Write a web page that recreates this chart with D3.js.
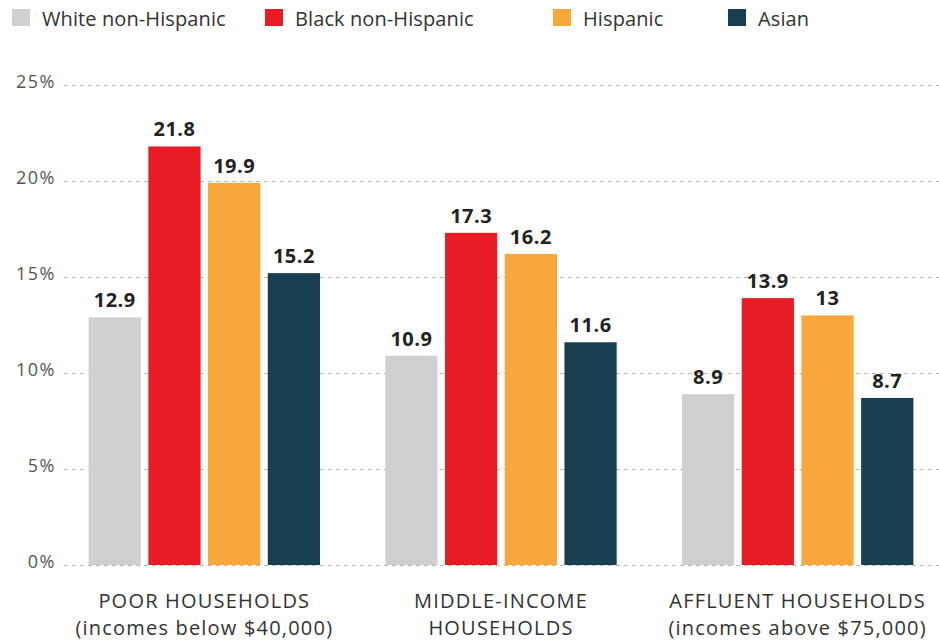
<!DOCTYPE html>
<html><head><meta charset="utf-8">
<script src="https://cdn.jsdelivr.net/npm/d3@7"></script>
<style>body{margin:0;background:#fff}svg{display:block}</style>
</head><body>
<svg id="c" width="939" height="641"></svg>
<script>
const categories = [["POOR HOUSEHOLDS","(incomes below $40,000)"],["MIDDLE-INCOME","HOUSEHOLDS"],["AFFLUENT HOUSEHOLDS","(incomes above $75,000)"]];
const seriesNames = ["White non-Hispanic","Black non-Hispanic","Hispanic","Asian"];
const white = [12.9, 10.9, 8.9];
const black = [21.8, 17.3, 13.9];
const hispanic = [19.9, 16.2, 13];
const asian = [15.2, 11.6, 8.7];
const yTicks = [0,5,10,15,20,25];
const colors = ["#cfd0d2","#e81c24","#f8a83a","#173f4f"];
const seriesVals = [white, black, hispanic, asian];

const svg = d3.select("#c");
const font = "'Open Sans', Lato, sans-serif";
const y = d3.scaleLinear().domain([0,25]).range([565,85]);
const catIdx = categories.map((d,i)=>i);
const x0 = d3.scaleBand().domain(catIdx).range([56,946]).paddingInner(0.22).paddingOuter(0.11);
const x1 = d3.scaleBand().domain(seriesNames).range([0,x0.bandwidth()]).paddingInner(0.125).paddingOuter(0);

// gridlines
const yAxis = d3.axisLeft(y).tickValues(yTicks).tickFormat(d=>d+"%").tickSize(-(939-64)).tickPadding(6);
const ga = svg.append("g").attr("transform","translate(64,0)").call(yAxis);
ga.select(".domain").remove();
ga.selectAll(".tick line").attr("stroke","#b8b8b8").attr("stroke-dasharray","4,4").attr("stroke-width",1);
ga.selectAll(".tick text").attr("font-family",font).attr("font-size",18).attr("letter-spacing","1.5px").attr("fill","#555").attr("x",-8).attr("dy","0.12em");

// bars
const g = svg.append("g");
catIdx.forEach(ci=>{
  seriesNames.forEach((s,si)=>{
    const v = seriesVals[si][ci];
    const bx = x0(ci)+x1(s);
    g.append("rect").attr("x",bx).attr("y",y(v)).attr("width",x1.bandwidth()).attr("height",y(0)-y(v)).attr("fill",colors[si]);
    g.append("text").attr("x",bx+x1.bandwidth()/2).attr("y",y(v)-10).attr("text-anchor","middle")
      .attr("font-family",font).attr("font-weight","bold").attr("font-size",20).attr("letter-spacing","0.5px").attr("fill","#222").text(v);
  });
  const t = g.append("text").attr("text-anchor","middle").attr("font-family",font).attr("font-size",20).attr("letter-spacing","1.2px").attr("fill","#333");
  categories[ci].forEach((line,li)=>{
    t.append("tspan").attr("x",x0(ci)+x0.bandwidth()/2).attr("y",608+li*27).text(line);
  });
});

// legend
const legX = [12,265,553,728];
seriesNames.forEach((s,i)=>{
  svg.append("rect").attr("x",legX[i]).attr("y",9).attr("width",18).attr("height",17).attr("fill",colors[i]);
  svg.append("text").attr("x",legX[i]+30).attr("y",26).attr("font-family",font).attr("font-size",20).attr("letter-spacing","0.1px").attr("fill","#333").text(s);
});
</script>
</body></html>
